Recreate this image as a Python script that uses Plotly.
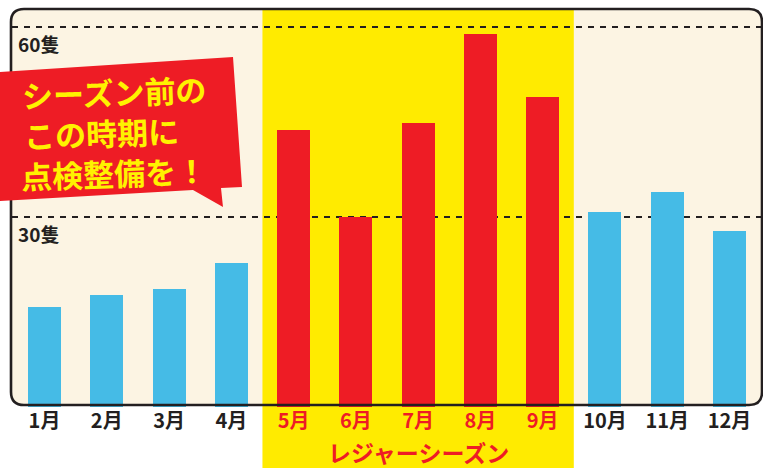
import plotly.graph_objects as go

# ---------------- data ----------------
months = ["1月", "2月", "3月", "4月", "5月", "6月", "7月", "8月", "9月", "10月", "11月", "12月"]
boats = [15.8, 17.7, 18.6, 22.7, 43.7, 30.0, 44.8, 58.9, 49.0, 30.8, 33.9, 27.8]
season_months = ["5月", "6月", "7月", "8月", "9月"]
y_tick_values = [30, 60]
y_tick_labels = ["30隻", "60隻"]
season_label = "レジャーシーズン"
callout_lines = ["シーズン前の", "この時期に", "点検整備を！"]

# ---------------- styling ----------------
BLUE = "#45BBE6"
RED = "#EE1C25"
YELLOW = "#FFEB00"
CREAM = "#FCF4E3"
DARK = "#231F20"
TEXT_YELLOW = "#FFF200"
FONT = "Noto Sans CJK JP"
HEAVY = "bold"

W, H = 763, 468
ML, MR, MT, MB = 12, 1, 0, 61
PW = W - ML - MR
PH = H - MT - MB


def px(x):
    return (x - ML) / PW


def py(y):
    return (MT + PH - y) / PH


def path_from(points):
    return "M " + " L ".join(f"{px(x):.5f},{py(y):.5f}" for x, y in points) + " Z"


def rounded_rect(x0, y0, x1, y1, r):
    P = lambda x, y: f"{px(x):.5f},{py(y):.5f}"
    return (
        f"M {P(x0 + r, y0)} L {P(x1 - r, y0)} Q {P(x1, y0)} {P(x1, y0 + r)} "
        f"L {P(x1, y1 - r)} Q {P(x1, y1)} {P(x1 - r, y1)} "
        f"L {P(x0 + r, y1)} Q {P(x0, y1)} {P(x0, y1 - r)} "
        f"L {P(x0, y0 + r)} Q {P(x0, y0)} {P(x0 + r, y0)} Z"
    )


colors = [RED if m in season_months else BLUE for m in months]
ticktext = [
    f'<span style="color:{RED}">{m}</span>' if m in season_months else m for m in months
]

fig = go.Figure(
    go.Bar(
        x=months,
        y=boats,
        marker=dict(color=colors, line=dict(width=0)),
        width=0.53,
        hoverinfo="skip",
    )
)

i0 = months.index(season_months[0])
i1 = months.index(season_months[-1])

shapes = [
    dict(type="path", xref="paper", yref="paper", path=rounded_rect(11, 9, 762, 405, 13),
         fillcolor=CREAM, line=dict(width=0), layer="below"),
    dict(type="rect", xref="x", yref="paper", x0=i0 - 0.5, x1=i1 + 0.5,
         y0=py(H), y1=py(10), fillcolor=YELLOW, line=dict(width=0), layer="below"),
    dict(type="path", xref="paper", yref="paper", path=rounded_rect(11, 9, 762, 405, 13),
         fillcolor="rgba(0,0,0,0)", line=dict(color=DARK, width=2.6), layer="above"),
    dict(type="path", xref="paper", yref="paper",
         path=path_from([(0, 72), (233, 57), (242, 187), (221, 188), (223, 207), (193, 190), (0, 201)]),
         fillcolor=RED, line=dict(width=0), layer="above"),
]

annotations = [
    dict(text=season_label, xref="x", yref="paper", x=season_months[len(season_months) // 2],
         y=py(452), xanchor="center", yanchor="middle", showarrow=False, borderpad=0,
         font=dict(family=FONT, size=23, color=RED, weight=HEAVY)),
]
for v, lab in zip(y_tick_values, y_tick_labels):
    annotations.append(
        dict(text=lab, xref="paper", yref="y", x=px(16), y=v, yshift=-16,
             xanchor="left", yanchor="middle", showarrow=False,
             font=dict(family=FONT, size=19, color=DARK, weight=HEAVY))
    )
callout_pos = [(114, 92), (101, 132), (114, 172)]
for line, (cx, cy) in zip(callout_lines, callout_pos):
    annotations.append(
        dict(text=line, xref="paper", yref="paper", x=px(cx), y=py(cy),
             xanchor="center", yanchor="middle", showarrow=False, textangle=-2,
             font=dict(family=FONT, size=31, color=TEXT_YELLOW, weight=HEAVY))
    )

fig.update_layout(
    width=W,
    height=H,
    margin=dict(l=ML, r=MR, t=MT, b=MB, pad=0),
    paper_bgcolor="white",
    plot_bgcolor="rgba(0,0,0,0)",
    showlegend=False,
    bargap=0,
    shapes=shapes,
    annotations=annotations,
    xaxis=dict(
        type="category",
        categoryorder="array",
        categoryarray=months,
        range=[(ML - 44.5) / 62.27, (W - MR - 44.5) / 62.27],
        tickvals=months,
        ticktext=ticktext,
        tickfont=dict(family=FONT, size=20, color=DARK, weight=HEAVY),
        ticks="",
        ticklabelstandoff=0,
        showgrid=False,
        showline=False,
        zeroline=False,
        fixedrange=True,
    ),
    yaxis=dict(
        range=[0, PH / 6.333],
        tickvals=y_tick_values,
        showticklabels=False,
        ticks="",
        showgrid=True,
        gridcolor=DARK,
        gridwidth=1.8,
        griddash="6px,6px",
        showline=False,
        zeroline=False,
        fixedrange=True,
    ),
)

fig.write_html(
    "out.html",
    config={"displayModeBar": False},
    post_script="document.body.style.margin='0';document.body.style.padding='0';",
)
